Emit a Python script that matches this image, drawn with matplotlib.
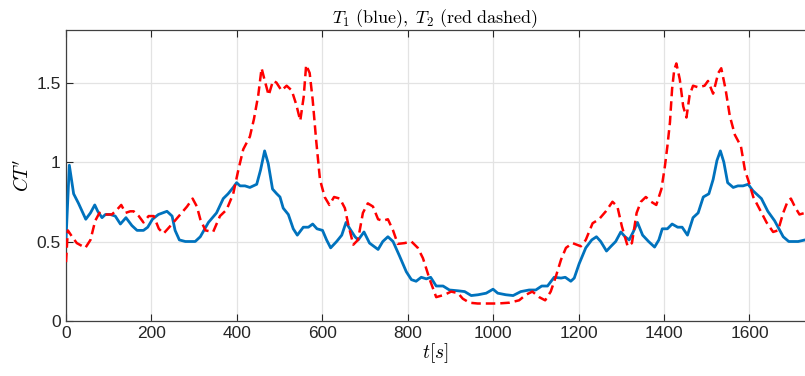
import matplotlib
matplotlib.use("Agg")
import matplotlib.pyplot as plt
from matplotlib.ticker import FuncFormatter

plt.rcParams['font.family'] = ['Liberation Sans', 'DejaVu Sans']
plt.rcParams['mathtext.fontset'] = 'cm'

# T1 (blue solid)
t1_x = [0.7, 8.5, 18.6, 30, 47, 58, 68, 75, 85, 93, 104, 116, 128, 141, 155, 167, 182, 192,
        203, 217, 237, 249, 256, 266, 280, 303, 315, 334, 353, 368.7, 380, 392, 400, 408,
        419.5, 431, 447, 456, 465.5, 474, 484, 494, 501.5, 509, 521, 532.5, 542, 556, 568,
        578, 588, 601, 610.5, 620, 634, 646, 656, 665, 677, 684.5, 698, 711, 731, 742, 754,
        766, 781, 797, 809, 820, 832, 844, 854, 867, 883, 898, 918, 933.6, 949, 965, 984,
        1000, 1011, 1030, 1047, 1065, 1084.5, 1100, 1114, 1127.5, 1143, 1159, 1169, 1182,
        1190, 1201.5, 1217, 1231, 1242, 1252, 1265.5, 1276, 1287, 1299, 1309, 1318.5, 1328,
        1338, 1350, 1364, 1378, 1388, 1396, 1408, 1419, 1432, 1442.5, 1455, 1468, 1480, 1492,
        1505, 1515, 1524, 1532, 1540, 1549, 1562, 1573, 1585, 1597, 1608, 1628, 1643, 1659,
        1679, 1692, 1714, 1730]
t1_y = [0.51, 0.98, 0.80, 0.74, 0.64, 0.68, 0.73, 0.69, 0.65, 0.67, 0.67, 0.66, 0.61, 0.65,
        0.60, 0.57, 0.57, 0.59, 0.64, 0.67, 0.69, 0.66, 0.57, 0.51, 0.50, 0.50, 0.53, 0.62,
        0.68, 0.77, 0.80, 0.84, 0.87, 0.85, 0.85, 0.84, 0.86, 0.95, 1.07, 0.99, 0.83, 0.80,
        0.78, 0.71, 0.67, 0.58, 0.54, 0.59, 0.59, 0.61, 0.58, 0.57, 0.51, 0.46, 0.50, 0.54,
        0.62, 0.58, 0.53, 0.51, 0.56, 0.49, 0.45, 0.50, 0.53, 0.50, 0.41, 0.31, 0.26, 0.25,
        0.275, 0.265, 0.275, 0.22, 0.22, 0.195, 0.19, 0.185, 0.16, 0.165, 0.175, 0.20, 0.175,
        0.165, 0.16, 0.185, 0.195, 0.195, 0.22, 0.22, 0.275, 0.27, 0.275, 0.25, 0.27, 0.36,
        0.46, 0.51, 0.53, 0.50, 0.44, 0.47, 0.50, 0.56, 0.53, 0.51, 0.56, 0.62, 0.54, 0.50,
        0.465, 0.51, 0.58, 0.58, 0.61, 0.59, 0.59, 0.54, 0.65, 0.68, 0.78, 0.80, 0.89, 1.01,
        1.07, 1.00, 0.87, 0.84, 0.85, 0.85, 0.86, 0.82, 0.77, 0.69, 0.63, 0.53, 0.50, 0.50,
        0.51]

# T2 (red dashed)
t2_x = [0.7, 5, 15, 26, 46, 58, 69, 79, 93, 108, 120, 130, 140, 151, 159, 171, 182, 194, 206,
        218, 229, 249, 268, 284, 297, 307, 315, 327, 345, 361, 376.5, 392, 404, 415.5, 431,
        440.5, 450.6, 458.4, 466, 475, 485, 493, 505, 517, 529, 539.7, 548.9, 556.9, 562.7,
        570.9, 578, 586, 595, 606, 617, 628, 641.6, 653.3, 661, 673, 684, 695.5, 707, 719,
        731, 742, 754, 766, 777, 793, 809, 824, 836, 852, 867, 886.5, 902, 918, 929.3, 945,
        964, 988, 1011, 1038, 1061, 1077, 1092, 1108, 1122, 1135, 1147, 1159, 1170.6, 1186,
        1205.5, 1217, 1233, 1248, 1264, 1279.5, 1291, 1301.5, 1315, 1325, 1336, 1346, 1357.5,
        1370, 1382, 1394, 1402, 1408, 1414, 1419, 1424, 1429, 1437, 1445, 1452.6, 1460, 1468,
        1480, 1495, 1503, 1515, 1527, 1534, 1544, 1554, 1566, 1580, 1589.4, 1599, 1609,
        1624.5, 1640, 1655.4, 1667, 1679, 1689, 1697, 1706, 1717, 1730]
t2_y = [0.37, 0.57, 0.53, 0.49, 0.46, 0.51, 0.63, 0.68, 0.67, 0.67, 0.70, 0.73, 0.68, 0.69,
        0.69, 0.66, 0.62, 0.66, 0.66, 0.58, 0.55, 0.61, 0.67, 0.72, 0.77, 0.72, 0.64, 0.57,
        0.56, 0.66, 0.70, 0.80, 0.95, 1.08, 1.16, 1.27, 1.42, 1.59, 1.51, 1.42, 1.51, 1.50,
        1.45, 1.48, 1.45, 1.36, 1.26, 1.41, 1.61, 1.56, 1.39, 1.14, 0.89, 0.78, 0.73, 0.78,
        0.77, 0.71, 0.61, 0.48, 0.51, 0.68, 0.74, 0.72, 0.64, 0.63, 0.64, 0.57, 0.485, 0.49,
        0.50, 0.46, 0.395, 0.26, 0.15, 0.165, 0.185, 0.175, 0.14, 0.115, 0.11, 0.11, 0.11,
        0.115, 0.13, 0.165, 0.185, 0.15, 0.13, 0.185, 0.28, 0.385, 0.46, 0.49, 0.47, 0.51,
        0.615, 0.64, 0.69, 0.75, 0.72, 0.595, 0.47, 0.49, 0.68, 0.75, 0.78, 0.75, 0.73, 0.83,
        0.97, 1.10, 1.25, 1.46, 1.58, 1.62, 1.52, 1.35, 1.28, 1.42, 1.48, 1.47, 1.48, 1.51,
        1.43, 1.56, 1.59, 1.46, 1.29, 1.17, 1.10, 0.95, 0.87, 0.78, 0.70, 0.62, 0.56, 0.57,
        0.68, 0.75, 0.77, 0.72, 0.67, 0.68]

xticks = [0, 200, 400, 600, 800, 1000, 1200, 1400, 1600]
yticks = [0, 0.5, 1, 1.5]

fig = plt.figure(figsize=(8.05, 3.76), dpi=100)
ax = fig.add_axes([0.0816, 0.1463, 0.9184, 0.7737])

ax.plot(t1_x, t1_y, '-', color='#0072BD', linewidth=2.0, zorder=3,
        solid_joinstyle='round', solid_capstyle='round')
ax.plot(t2_x, t2_y, '--', color='red', linewidth=1.8, dashes=(3.8, 2.0), zorder=4,
        dash_joinstyle='round')

ax.set_xlim(0, 1730)
ax.set_ylim(0, 1.83)
ax.set_xticks(xticks)
ax.set_yticks(yticks)
ax.yaxis.set_major_formatter(FuncFormatter(lambda v, p: '%g' % v))
ax.grid(True, color='#e3e3e3', linewidth=0.9)
ax.set_axisbelow(True)
ax.tick_params(direction='in', length=5, width=0.8, labelsize=12.5, colors='#262626',
               top=True, right=False)
for s in ['left', 'bottom', 'top']:
    ax.spines[s].set_color('#404040')
    ax.spines[s].set_linewidth(0.9)
ax.spines['right'].set_visible(False)

ax.set_title(r"$T_1\ \mathrm{(blue)},\ T_2\ \mathrm{(red\ dashed)}$", fontsize=13, pad=5)
ax.set_xlabel(r"$t[s]$", fontsize=14, labelpad=0)
ax.set_ylabel(r"$CT'$", fontsize=14, labelpad=3)

plt.savefig("out.png", dpi=100)
